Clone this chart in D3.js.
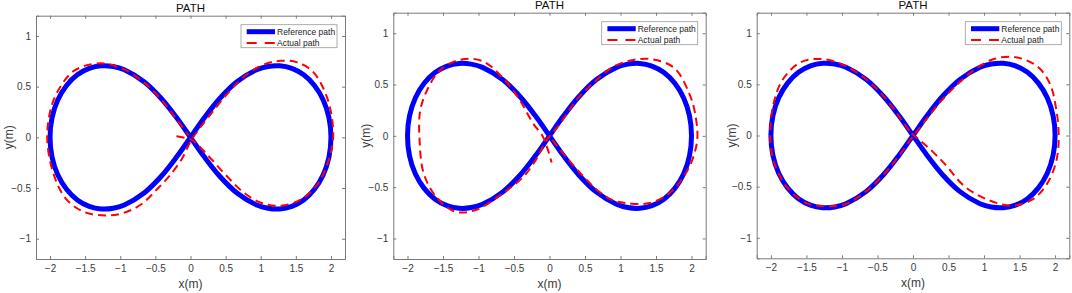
<!DOCTYPE html>
<html><head><meta charset="utf-8">
<script src="https://cdn.jsdelivr.net/npm/d3@7"></script>
<style>body{margin:0;background:#fff}svg{display:block}text{font-family:Arial,"Liberation Sans",sans-serif}</style>
</head><body><svg id="c" width="1072" height="293"></svg>
<script>
const xTicks = [-2,-1.5,-1,-0.5,0,0.5,1,1.5,2];
const yTicks = [-1,-0.5,0,0.5,1];
const xDomain = [-2.2,2.2], yDomain = [-1.2,1.2];
const titles = ["PATH","PATH","PATH"];
const xLabel = "x(m)", yLabel = "y(m)";
const legendLabels = ["Reference path","Actual path"];

const referencePath = [
[2.000,0.000],[1.972,0.193],[1.890,0.369],[1.765,0.512],[1.612,0.617],[1.443,0.680],[1.271,0.706],[1.102,0.699],[0.943,0.667],[0.657,0.546],[0.413,0.381],[0.199,0.195],[0,0],
[-0.199,-0.195],[-0.413,-0.381],[-0.657,-0.546],[-0.943,-0.667],[-1.102,-0.699],[-1.271,-0.706],[-1.443,-0.680],[-1.612,-0.617],[-1.765,-0.512],[-1.890,-0.369],[-1.972,-0.193],[-2,0],
[-1.972,0.193],[-1.890,0.369],[-1.765,0.512],[-1.612,0.617],[-1.443,0.680],[-1.271,0.706],[-1.102,0.699],[-0.943,0.667],[-0.657,0.546],[-0.413,0.381],[-0.199,0.195],[0,0],
[0.199,-0.195],[0.413,-0.381],[0.657,-0.546],[0.943,-0.667],[1.102,-0.699],[1.271,-0.706],[1.443,-0.680],[1.612,-0.617],[1.765,-0.512],[1.890,-0.369],[1.972,-0.193]
];

const actualPath1 = [
[-0.20,0.01],[-0.08,-0.005],[0.03,-0.03],[0.25,-0.18],[0.50,-0.37],[0.75,-0.54],[1.00,-0.645],[1.28,-0.675],[1.58,-0.61],[1.80,-0.47],[1.95,-0.26],[2.03,-0.02],[2.00,0.25],[1.90,0.47],[1.74,0.65],[1.52,0.74],[1.28,0.755],[1.05,0.72],[0.80,0.62],[0.55,0.45],[0.30,0.24],[0.12,0.08],[0.01,-0.03],[-0.13,-0.22],[-0.30,-0.38],[-0.46,-0.50],[-0.70,-0.66],[-0.95,-0.745],[-1.18,-0.77],[-1.50,-0.74],[-1.77,-0.61],[-1.95,-0.36],[-2.04,-0.02],[-1.99,0.28],[-1.87,0.48],[-1.65,0.66],[-1.29,0.73],[-0.96,0.675],[-0.66,0.54],[-0.40,0.36],[-0.20,0.18],[-0.03,0.02]
];
const actualPath2 = [
[0.04,-0.04],[0.24,-0.21],[0.47,-0.39],[0.71,-0.55],[0.90,-0.63],[1.08,-0.655],[1.41,-0.655],[1.72,-0.54],[1.97,-0.30],[2.08,-0.04],[2.05,0.22],[1.97,0.41],[1.76,0.66],[1.46,0.745],[1.18,0.74],[0.89,0.67],[0.61,0.51],[0.38,0.35],[0.15,0.12],[-0.05,-0.05],[-0.18,-0.22],[-0.37,-0.40],[-0.70,-0.58],[-1.03,-0.72],[-1.32,-0.74],[-1.59,-0.60],[-1.77,-0.37],[-1.83,-0.04],[-1.82,0.25],[-1.70,0.48],[-1.54,0.64],[-1.27,0.74],[-0.95,0.73],[-0.65,0.56],[-0.42,0.35],[-0.23,0.12],[-0.10,0.00],[-0.04,-0.10],[0.03,-0.26]
];
const actualPath3 = [
[-0.02,0.02],[0.12,-0.06],[0.28,-0.16],[0.45,-0.28],[0.73,-0.50],[1.06,-0.63],[1.39,-0.685],[1.67,-0.63],[1.88,-0.48],[2.02,-0.24],[2.05,0.02],[2.01,0.28],[1.93,0.50],[1.76,0.67],[1.45,0.765],[1.15,0.75],[0.90,0.66],[0.64,0.51],[0.40,0.34],[0.19,0.16],[0.00,-0.01],[-0.20,-0.20],[-0.41,-0.38],[-0.66,-0.545],[-0.95,-0.67],[-1.22,-0.69],[-1.50,-0.66],[-1.78,-0.50],[-1.96,-0.25],[-2.01,0.02],[-1.96,0.32],[-1.83,0.55],[-1.57,0.72],[-1.25,0.745],[-0.95,0.68],[-0.66,0.55],[-0.41,0.38],[-0.20,0.19],[-0.03,0.02]
];
const actualPaths = [actualPath1, actualPath2, actualPath3];

const layouts = [
  {l:36, t:15.7, r:345, b:259, ylx:9, ty:11.6},
  {l:393.3, t:12.7, r:705.7, b:259, ylx:366, ty:9.4},
  {l:756.7, t:12.7, r:1069.3, b:258.3, ylx:731.5, ty:9.4}
];

const svg = d3.select("#c");
const axisColor = "#7a7a7a", textColor = "#3a3a3a";

layouts.forEach((L, i) => {
  const x = d3.scaleLinear().domain(xDomain).range([L.l, L.r]);
  const y = d3.scaleLinear().domain(yDomain).range([L.b, L.t]);
  const g = svg.append("g");
  const clipId = "clip" + i;
  svg.append("clipPath").attr("id", clipId).append("rect")
    .attr("x", L.l).attr("y", L.t).attr("width", L.r - L.l).attr("height", L.b - L.t);

  const tickLen = 3;
  const axB = d3.axisBottom(x).tickValues(xTicks).tickSize(-tickLen).tickPadding(6).tickFormat(d3.format("~g"));
  const axT = d3.axisTop(x).tickValues(xTicks).tickSize(-tickLen).tickFormat("");
  const axL = d3.axisLeft(y).tickValues(yTicks).tickSize(-tickLen).tickPadding(5).tickFormat(d3.format("~g"));
  const axR = d3.axisRight(y).tickValues(yTicks).tickSize(-tickLen).tickFormat("");
  const styleAxis = sel => {
    sel.selectAll("path.domain").attr("stroke", axisColor).attr("stroke-width", 1);
    sel.selectAll(".tick line").attr("stroke", axisColor).attr("stroke-width", 1);
    sel.selectAll(".tick text").attr("fill", textColor).style("font-size", "10px")
      .style("font-family", "Arial, 'Liberation Sans', sans-serif");
  };
  g.append("g").attr("transform", `translate(0,${L.b})`).call(axB).call(styleAxis);
  g.append("g").attr("transform", `translate(0,${L.t})`).call(axT).call(styleAxis);
  g.append("g").attr("transform", `translate(${L.l},0)`).call(axL).call(styleAxis);
  g.append("g").attr("transform", `translate(${L.r},0)`).call(axR).call(styleAxis);

  const plot = g.append("g").attr("clip-path", `url(#${clipId})`);
  plot.append("path").datum(referencePath)
    .attr("d", d3.line().x(d => x(d[0])).y(d => y(d[1])).curve(d3.curveCatmullRomClosed.alpha(0.5)))
    .attr("fill", "none").attr("stroke", "#0000ff").attr("stroke-width", 5).attr("stroke-linejoin", "round");
  plot.append("path").datum(actualPaths[i])
    .attr("d", d3.line().x(d => x(d[0])).y(d => y(d[1])).curve(d3.curveCatmullRom.alpha(0.5)))
    .attr("fill", "none").attr("stroke", "#ff0000").attr("stroke-width", 2).attr("stroke-dasharray", "8,5");

  g.append("text").attr("x", (L.l + L.r) / 2).attr("y", L.ty).attr("text-anchor", "middle")
    .attr("fill", "#111").style("font-size", "11.5px").text(titles[i]);
  g.append("text").attr("x", (L.l + L.r) / 2).attr("y", L.b + 28.5).attr("text-anchor", "middle")
    .attr("fill", textColor).style("font-size", "12px").text(xLabel);
  g.append("text").attr("transform", `translate(${L.ylx},${(L.t + L.b) / 2}) rotate(-90)`)
    .attr("text-anchor", "middle").attr("dy", "0.35em")
    .attr("fill", textColor).style("font-size", "12px").text(yLabel);

  const bx = L.r - 104, by = L.t + 9, bw = 96, bh = 23;
  const lg = g.append("g");
  lg.append("rect").attr("x", bx).attr("y", by).attr("width", bw).attr("height", bh)
    .attr("fill", "#fff").attr("stroke", "#9a9a9a").attr("stroke-width", 0.8);
  const rows = [{c:"#0000ff", w:5, dash:null, yy:by + 7}, {c:"#ff0000", w:2, dash:"10,8", yy:by + 18.3}];
  rows.forEach((r, j) => {
    lg.append("line").attr("x1", bx + 5.7).attr("x2", bx + 34).attr("y1", r.yy).attr("y2", r.yy)
      .attr("stroke", r.c).attr("stroke-width", r.w).attr("stroke-dasharray", r.dash);
    lg.append("text").attr("x", bx + 36).attr("y", r.yy).attr("dy", "0.35em")
      .attr("fill", "#222").style("font-size", "8.5px").text(legendLabels[j]);
  });
});
</script></body></html>
